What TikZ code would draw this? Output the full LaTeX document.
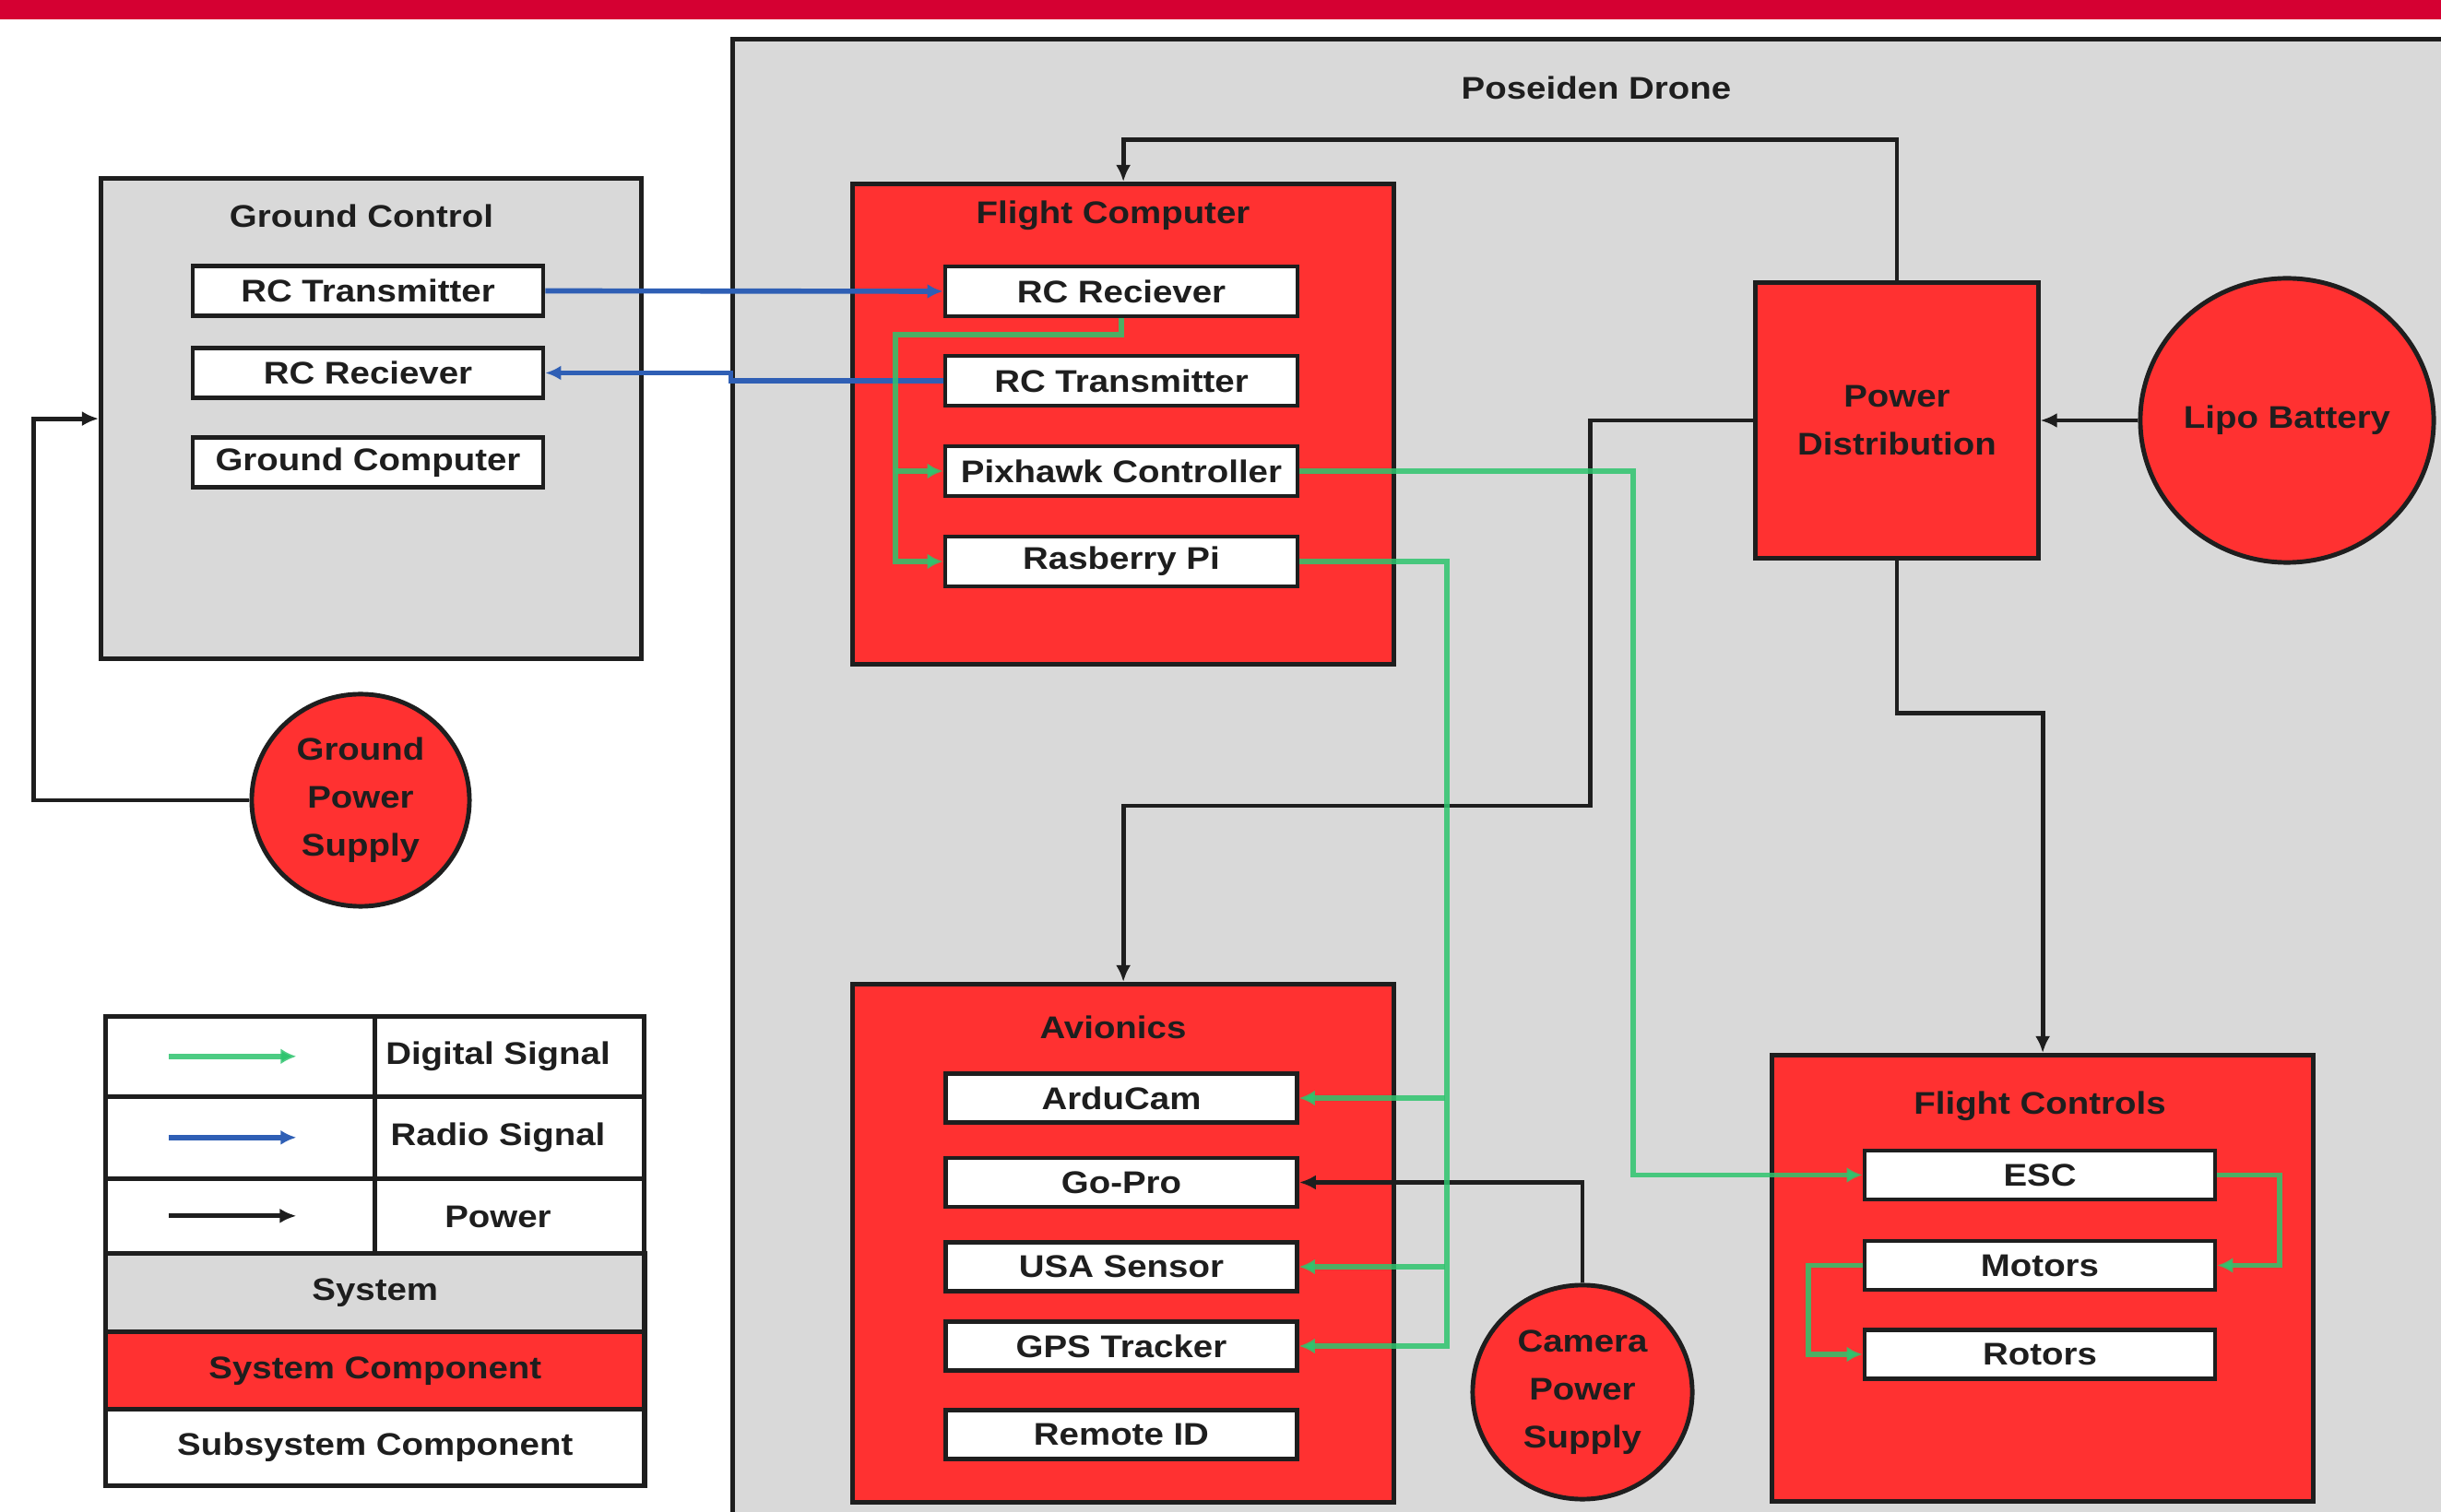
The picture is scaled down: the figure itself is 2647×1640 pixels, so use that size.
\documentclass[tikz,border=0pt]{standalone}
\usepackage{fontspec}
\setmainfont{Liberation Sans}[FakeStretch=1.13]
\usetikzlibrary{shapes.geometric,arrows.meta}
\definecolor{banner}{HTML}{D50032}
\definecolor{compred}{HTML}{FF3131}
\definecolor{sysgray}{HTML}{D9D9D9}
\definecolor{sigblue}{HTML}{2F5FB5}
\definecolor{siggreen}{HTML}{2EC46E}
\definecolor{ink}{HTML}{1E1E1E}
\begin{document}
\begin{tikzpicture}[x=0.01cm,y=-0.01cm,
 every node/.style={font=\fontsize{9.67}{14.8}\selectfont\bfseries, text=ink, inner sep=0pt},
 sysbox/.style={draw=ink, line width=1.4pt, fill=sysgray, anchor=north west},
 compbox/.style={draw=ink, line width=1.4pt, fill=compred, anchor=north west},
 subbox/.style={draw=ink, line width=1.3pt, fill=white, minimum width=3.80cm, minimum height=0.54cm},
 circ/.style={ellipse, draw=ink, line width=1.4pt, fill=compred, align=center},
 pwr/.style={draw=ink, line width=1.4pt, -{Latex[length=0.18cm,width=0.16cm]}},
 dig/.style={draw=siggreen, line width=1.7pt, draw opacity=0.85, -{Latex[length=0.17cm,width=0.17cm]}},
 rad/.style={draw=sigblue, line width=1.6pt, -{Latex[length=0.17cm,width=0.16cm]}},
 legcell/.style={draw=ink, line width=1.3pt, anchor=north west, minimum width=2.92cm},
]
\clip (0,0) rectangle (2647,1640);
\fill[white] (0,0) rectangle (2647,1640);
\fill[banner] (0,0) rectangle (2647,21);

% Drone system
\node[sysbox, minimum width=19cm, minimum height=16.5cm] (drone) at (792,40) {};
\node (droneT) at (1731,95) {Poseiden Drone};

% Ground control
\node[sysbox, minimum width=5.86cm, minimum height=5.21cm] (gc) at (107,191) {};
\node (gcT) at (392,234) {Ground Control};
\node[subbox] (gcTx) at (399,315.5) {RC Transmitter};
\node[subbox] (gcRx) at (399,404.5) {RC Reciever};
\node[subbox] (gcComp) at (399,501.5) {Ground Computer};
\node[circ, minimum width=2.36cm, minimum height=2.30cm] (gps) at (391,868) {Ground\\Power\\Supply};

% Flight computer
\node[compbox, minimum width=5.87cm, minimum height=5.21cm] (fc) at (922,197) {};
\node (fcT) at (1207,234) {Flight Computer};
\node[subbox, minimum width=3.82cm] (fcRx) at (1216,316) {RC Reciever};
\node[subbox, minimum width=3.82cm] (fcTx) at (1216,413) {RC Transmitter};
\node[subbox, minimum width=3.82cm] (fcPx) at (1216,511) {Pixhawk Controller};
\node[subbox, minimum width=3.82cm] (fcPi) at (1216,609) {Rasberry Pi};

% Power
\node[draw=ink, line width=1.4pt, fill=compred, minimum width=3.06cm, minimum height=2.99cm, align=center] (pd) at (2057,456) {Power\\Distribution};
\node[circ, minimum width=3.18cm, minimum height=3.08cm] (lipo) at (2480,456) {Lipo Battery};

% Avionics
\node[compbox, minimum width=5.87cm, minimum height=5.62cm] (av) at (922,1065) {};
\node (avT) at (1207,1114) {Avionics};
\node[subbox, minimum width=3.81cm, minimum height=0.53cm] (ardu) at (1216,1191) {ArduCam};
\node[subbox, minimum width=3.81cm, minimum height=0.53cm] (gopro) at (1216,1282.5) {Go-Pro};
\node[subbox, minimum width=3.81cm, minimum height=0.53cm] (usa) at (1216,1374) {USA Sensor};
\node[subbox, minimum width=3.81cm, minimum height=0.53cm] (gpsT) at (1216,1460) {GPS Tracker};
\node[subbox, minimum width=3.81cm, minimum height=0.53cm] (rid) at (1216,1556) {Remote ID};
\node[circ, minimum width=2.38cm, minimum height=2.32cm] (cps) at (1716,1510) {Camera\\Power\\Supply};

% Flight controls
\node[compbox, minimum width=5.87cm, minimum height=4.84cm] (fctl) at (1919,1142) {};
\node (fctlT) at (2212,1200) {Flight Controls};
\node[subbox, minimum height=0.53cm] (esc) at (2212,1274.5) {ESC};
\node[subbox, minimum height=0.53cm] (motors) at (2212,1372.5) {Motors};
\node[subbox, minimum height=0.53cm] (rotors) at (2212,1469) {Rotors};

% Radio connectors
\draw[rad] (gcTx.east) -- (fcRx.west);
\draw[rad] (fcTx.west) -- ++(-230,0) |- (gcRx.east);

% Power connectors
\draw[pwr] (pd.north) -- ++(0,-152) -| (fc.north);
\draw[pwr] (lipo.west) -- (pd.east);
\draw[pwr] (pd.west) -- ++(-177,0) -- ++(0,418) -| (av.north);
\draw[pwr] (pd.south) -- ++(0,165) -| (fctl.north);
\draw[pwr] (cps.north) |- (gopro.east);
\draw[pwr] (gps.west) -- ++(-234,0) |- (gc.west);

% Digital connectors
\coordinate (j1) at (971,511);
\coordinate (j2) at (1567,1191);
\coordinate (j3) at (1567,1374);
\draw[dig] (fcRx.south) -- ++(0,18) -- ++(-245,0) |- (fcPi.west);
\draw[dig] (j1) -- (fcPx.west);
\draw[dig] (fcPx.east) -- ++(362,0) |- (esc.west);
\draw[dig] (fcPi.east) -- ++(160,0) |- (gpsT.east);
\draw[dig] (j2) -- (ardu.east);
\draw[dig] (j3) -- (usa.east);
\draw[dig] (esc.east) -- ++(68,0) |- (motors.east);
\draw[dig] (motors.west) -- ++(-59,0) |- (rotors.west);

% Legend
\node[legcell, minimum height=0.87cm] (legA1) at (112,1100) {};
\node[legcell, minimum height=0.87cm] (legB1) at (404,1100) {};
\node[legcell, minimum height=0.89cm] (legA2) at (112,1187) {};
\node[legcell, minimum height=0.89cm] (legB2) at (404,1187) {};
\node[legcell, minimum height=0.81cm] (legA3) at (112,1276) {};
\node[legcell, minimum height=0.81cm] (legB3) at (404,1276) {};
\node (legT1) at (540,1146) {Digital Signal};
\node (legT2) at (540,1234) {Radio Signal};
\node (legT3) at (540,1320) {Power};
\node[legcell, minimum width=5.84cm, minimum height=0.85cm, fill=sysgray, line width=1.5pt] (legSys) at (112,1357) {System};
\node[legcell, minimum width=5.84cm, minimum height=0.84cm, fill=compred, line width=1.5pt] (legComp) at (112,1442) {System Component};
\node[legcell, minimum width=5.84cm, minimum height=0.83cm, fill=white, line width=1.5pt] (legSub) at (112,1526) {Subsystem Component};
\draw[dig] ([xshift=-0.77cm]legA1.center) -- ([xshift=0.61cm]legA1.center);
\draw[rad] ([xshift=-0.77cm]legA2.center) -- ([xshift=0.61cm]legA2.center);
\draw[pwr] ([xshift=-0.77cm]legA3.center) -- ([xshift=0.61cm]legA3.center);
\end{tikzpicture}
\end{document}
